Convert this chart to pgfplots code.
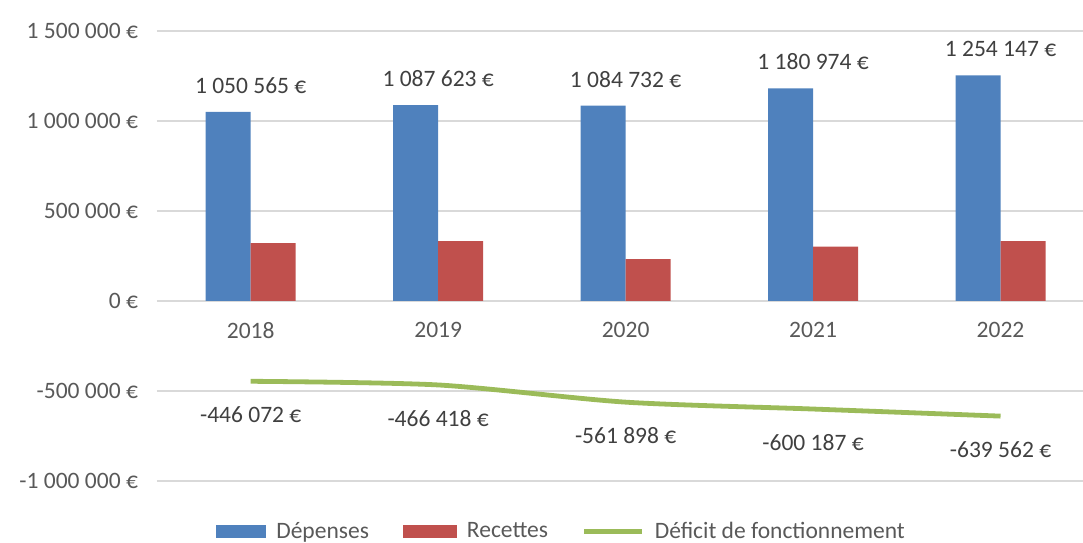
\documentclass[border=0pt]{standalone}
\usepackage{fontspec}
\setmainfont{Carlito}
\usepackage{pgfplots}
\pgfplotsset{compat=1.18}
\usetikzlibrary{calc}
\definecolor{depblue}{HTML}{4F81BD}
\definecolor{recred}{HTML}{C0504D}
\definecolor{defgreen}{HTML}{9BBB59}
\definecolor{txtgray}{HTML}{595959}
\definecolor{lblgray}{HTML}{404040}
\definecolor{gridgray}{HTML}{D9D9D9}
\begin{document}
\begin{tikzpicture}
\begin{axis}[name=ax, scale only axis, width=463bp, height=225bp,
  xmin=-0.5, xmax=4.44, ymin=-1000000, ymax=1500000,
  scaled y ticks=false,
  axis x line=middle, axis y line=left,
  x axis line style={draw=gridgray, line width=0.8bp, -},
  y axis line style={draw=none},
  major tick length=0pt,
  xtick={0,...,4}, xticklabels={2018,2019,2020,2021,2022},
  ytick={-1000000,-500000,0,500000,1000000,1500000},
  yticklabels={-1 000 000 €,-500 000 €,0 €,500 000 €,1 000 000 €,1 500 000 €},
  ymajorgrids, grid style={gridgray, line width=0.8bp},
  font=\fontsize{11.8}{14}\selectfont,
  tick label style={txtgray},
  xticklabel style={yshift=-7bp},
  yticklabel style={xshift=-6bp},
  clip=false,
  legend style={at={(0.438,-0.113)}, anchor=center, draw=none, fill=none,
    legend columns=3, text=txtgray, font=\fontsize{11.8}{14}\selectfont,
    /tikz/every odd column/.append style={column sep=3bp},
    /tikz/every even column/.append style={column sep=15bp}},
  legend cell align=left,
]
\addplot[ybar, bar width=22.5bp, bar shift=-11.25bp, fill=depblue, draw=none,
  point meta=explicit symbolic, nodes near coords,
  nodes near coords style={anchor=south, inner sep=0pt, yshift=9bp, text=lblgray},
  area legend, legend image code/.code={\fill[depblue] (0bp,-3.25bp) rectangle (25bp,3.25bp);}]
  coordinates {(0,1050565)[1 050 565 €] (1,1087623)[1 087 623 €] (2,1084732)[1 084 732 €]
               (3,1180974)[1 180 974 €] (4,1254147)[1 254 147 €]};
\addlegendentry{Dépenses}
\addplot[ybar, bar width=22.5bp, bar shift=11.25bp, fill=recred, draw=none,
  area legend, legend image code/.code={\fill[recred] (0bp,-3.25bp) rectangle (27bp,3.25bp);}]
  coordinates {(0,322000) (1,333000) (2,233000) (3,302000) (4,333000)};
\addlegendentry{Recettes}
\addplot[defgreen, line width=2.4bp, smooth, tension=0.45, mark=none,
  point meta=explicit symbolic, nodes near coords,
  nodes near coords style={anchor=north, inner sep=0pt, yshift=-11.5bp, text=lblgray},
  legend image code/.code={\draw[defgreen, line width=2.4bp] (0bp,0bp) -- (29bp,0bp);}]
  coordinates {(0,-446072)[-446 072 €] (1,-466418)[-466 418 €] (2,-561898)[-561 898 €]
               (3,-600187)[-600 187 €] (4,-639562)[-639 562 €]};
\addlegendentry{Déficit de fonctionnement}
\end{axis}
\pgfresetboundingbox
\path[use as bounding box] ($(ax.south west)+(-78.5bp,-31bp)$) rectangle ($(ax.south west)+(463bp,240.5bp)$);
\end{tikzpicture}
\end{document}
